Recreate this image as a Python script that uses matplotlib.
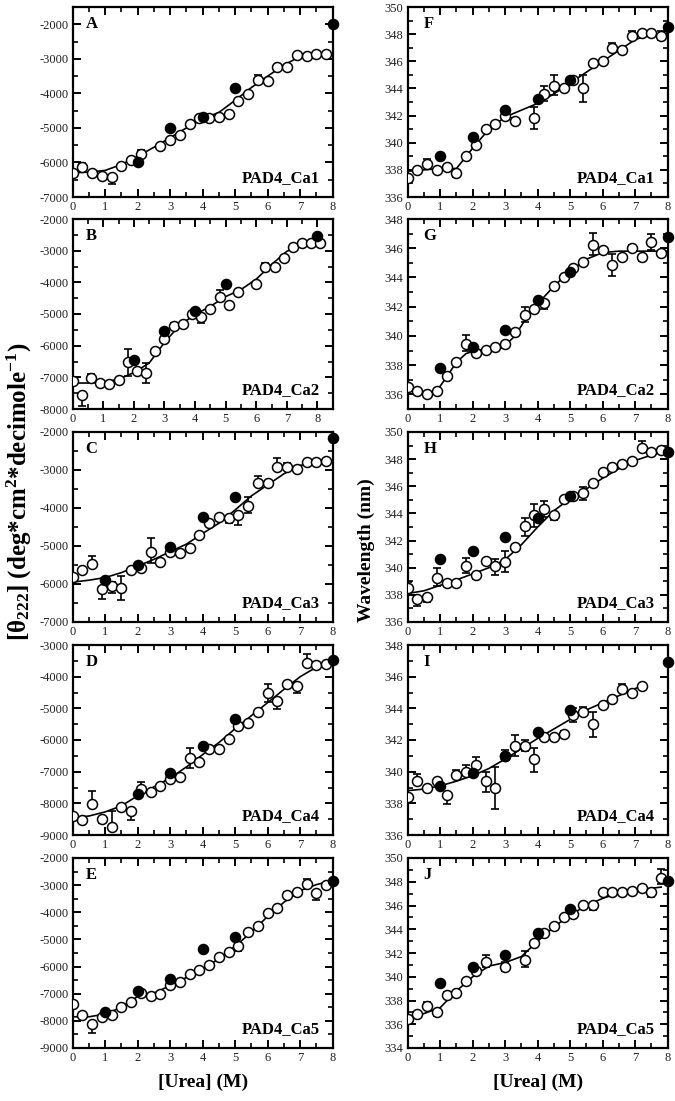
import numpy as np
import matplotlib
matplotlib.use("Agg")
import matplotlib.pyplot as plt
from matplotlib.ticker import MultipleLocator

plt.rcParams['font.family'] = ['Liberation Serif', 'DejaVu Serif']
plt.rcParams['axes.unicode_minus'] = False
plt.rcParams['mathtext.fontset'] = 'custom'
plt.rcParams['mathtext.rm'] = 'Liberation Serif'
plt.rcParams['mathtext.it'] = 'Liberation Serif:italic'
plt.rcParams['mathtext.bf'] = 'Liberation Serif:bold'

# ---- CD panels (left column) ----
# A : PAD4_Ca1
a_x = [0, 0.3, 0.6, 0.9, 1.2, 1.5, 1.8, 2.1, 2.7, 3.0, 3.3, 3.6, 3.9, 4.2, 4.5, 4.8, 5.1, 5.4, 5.7, 6.0, 6.3, 6.6, 6.9, 7.2, 7.5, 7.8]
a_y = [-6310, -6140, -6300, -6390, -6420, -6110, -5940, -5750, -5530, -5360, -5200, -4890, -4710, -4710, -4690, -4600, -4230, -4030, -3600, -3630, -3250, -3230, -2880, -2930, -2870, -2870]
a_ex = [0.3, 1.2, 2.1, 5.7]
a_elo = [0, 210, 0, 0]
a_ehi = [130, 0, 100, 140]
a_fx = [2, 3, 4, 5, 8]
a_fy = [-6000, -5000, -4670, -3850, -2000]
a_lx = [0, 0.5, 1, 1.5, 2, 2.5, 3, 3.5, 4, 4.5, 5, 5.5, 6, 6.5, 7, 7.5, 7.8]
a_ly = [-6300, -6280, -6230, -6060, -5820, -5560, -5280, -5000, -4740, -4550, -4200, -3830, -3500, -3180, -2930, -2860, -2860]

# B : PAD4_Ca2
b_x = [0, 0.3, 0.6, 0.9, 1.2, 1.5, 1.8, 2.1, 2.4, 2.7, 3.0, 3.3, 3.6, 3.9, 4.2, 4.5, 4.8, 5.1, 5.4, 6.0, 6.3, 6.6, 6.9, 7.2, 7.5, 7.8, 8.1]
b_y = [-7100, -7550, -7020, -7180, -7200, -7080, -6510, -6810, -6860, -6180, -5790, -5390, -5300, -5000, -5100, -4830, -4460, -4700, -4300, -4050, -3500, -3510, -3220, -2880, -2760, -2760, -2760]
b_ex = [0.3, 0.6, 1.8, 2.4, 3.3, 4.2, 4.8, 6.3]
b_elo = [350, 0, 450, 320, 0, 180, 0, 0]
b_ehi = [0, 130, 420, 320, 100, 0, 220, 120]
b_fx = [2, 3, 4, 5, 8]
b_fy = [-6440, -5530, -4900, -4040, -2550]
b_lx = [0, 0.5, 1, 1.5, 2, 2.5, 3, 3.5, 4, 4.5, 5, 5.5, 6, 6.5, 7, 7.5, 8.1]
b_ly = [-7180, -7180, -7160, -7060, -6850, -6550, -5900, -5350, -5020, -4760, -4450, -4230, -3900, -3440, -3020, -2830, -2790]

# C : PAD4_Ca3
c_x = [0, 0.3, 0.6, 0.9, 1.2, 1.5, 1.8, 2.1, 2.4, 2.7, 3.0, 3.3, 3.6, 3.9, 4.2, 4.5, 4.8, 5.1, 5.4, 5.7, 6.0, 6.3, 6.6, 6.9, 7.2, 7.5, 7.8]
c_y = [-5810, -5630, -5480, -6140, -6040, -6100, -5630, -5590, -5150, -5430, -5150, -5190, -5040, -4710, -4400, -4230, -4250, -4180, -3940, -3350, -3350, -2930, -2910, -2980, -2780, -2800, -2760]
c_ex = [0, 0.6, 0.9, 1.2, 1.5, 2.4, 3.6, 4.8, 5.1, 5.4, 5.7, 6.3, 6.6]
c_elo = [100, 0, 260, 200, 330, 300, 80, 150, 260, 200, 0, 0, 0]
c_ehi = [0, 220, 0, 100, 320, 370, 0, 0, 0, 240, 180, 250, 100]
c_fx = [1, 2, 3, 4, 5, 8]
c_fy = [-5900, -5500, -5020, -4230, -3720, -2170]
c_lx = [0, 0.5, 1, 1.5, 2, 2.5, 3, 3.5, 4, 4.5, 5, 5.5, 6, 6.5, 7, 7.5, 7.8]
c_ly = [-5950, -5900, -5830, -5700, -5530, -5350, -5150, -4950, -4670, -4400, -4050, -3680, -3390, -3100, -2880, -2790, -2770]

# D : PAD4_Ca4
d_x = [0, 0.3, 0.6, 0.9, 1.2, 1.5, 1.8, 2.1, 2.4, 2.7, 3.0, 3.3, 3.6, 3.9, 4.2, 4.5, 4.8, 5.1, 5.4, 5.7, 6.0, 6.3, 6.6, 6.9, 7.2, 7.5, 7.8]
d_y = [-8410, -8540, -8020, -8490, -8750, -8130, -8250, -7560, -7640, -7460, -7240, -7160, -6560, -6690, -6270, -6270, -5970, -5550, -5470, -5120, -4520, -4780, -4220, -4300, -3580, -3640, -3600]
d_ex = [0.6, 0.9, 1.2, 1.8, 2.1, 3.6, 5.4, 6.0, 6.3, 6.9, 7.2]
d_elo = [0, 120, 0, 270, 0, 320, 100, 290, 230, 210, 0]
d_ehi = [400, 0, 500, 0, 230, 320, 0, 300, 0, 0, 290]
d_fx = [2, 3, 4, 5, 8]
d_fy = [-7690, -7050, -6180, -5350, -3480]
d_lx = [0, 0.5, 1, 1.5, 2, 2.5, 3, 3.5, 4, 4.5, 5, 5.5, 6, 6.5, 7, 7.5, 8]
d_ly = [-8460, -8400, -8270, -8080, -7760, -7480, -7200, -6850, -6460, -6080, -5640, -5230, -4820, -4400, -4000, -3700, -3450]

# E : PAD4_Ca5
e_x = [0, 0.3, 0.6, 0.9, 1.2, 1.5, 1.8, 2.1, 2.4, 2.7, 3.0, 3.3, 3.6, 3.9, 4.2, 4.5, 4.8, 5.1, 5.4, 5.7, 6.0, 6.3, 6.6, 6.9, 7.2, 7.5, 7.8]
e_y = [-7370, -7800, -8110, -7840, -7770, -7490, -7300, -6980, -7070, -7000, -6690, -6550, -6280, -6120, -5960, -5660, -5480, -5260, -4720, -4520, -4040, -3860, -3360, -3240, -2950, -3290, -2980]
e_ex = [0.6, 5.1, 6.6, 7.2, 7.5]
e_elo = [320, 180, 100, 0, 270]
e_ehi = [0, 0, 100, 170, 0]
e_fx = [1, 2, 3, 4, 5, 8]
e_fy = [-7680, -6910, -6450, -5350, -4910, -2860]
e_lx = [0, 0.5, 1, 1.5, 2, 2.5, 3, 3.5, 4, 4.5, 5, 5.5, 6, 6.5, 7, 7.5, 8]
e_ly = [-7850, -7850, -7750, -7500, -7100, -6980, -6700, -6400, -6080, -5720, -5250, -4730, -4150, -3630, -3200, -2980, -2830]

# ---- fluorescence panels (right column) ----
# F : PAD4_Ca1
f_x = [0, 0.3, 0.6, 0.9, 1.2, 1.5, 1.8, 2.1, 2.4, 2.7, 3.0, 3.3, 3.9, 4.2, 4.5, 4.8, 5.1, 5.4, 5.7, 6.0, 6.3, 6.6, 6.9, 7.2, 7.5, 7.8]
f_y = [337.4, 338.0, 338.4, 338.0, 338.2, 337.8, 339.0, 339.8, 341.0, 341.4, 342.0, 341.6, 341.8, 343.6, 344.2, 344.0, 344.6, 344.0, 345.9, 346.0, 347.0, 346.8, 347.9, 348.1, 348.1, 347.9]
f_ex = [0, 0.6, 1.5, 3.3, 3.9, 4.2, 4.5, 5.4, 6.3, 6.9, 7.8]
f_elo = [0.3, 0, 0.3, 0.2, 0.8, 0.5, 0.7, 1.0, 0, 0, 0.3]
f_ehi = [0, 0.4, 0, 0.2, 0.8, 0.6, 0.8, 1.0, 0.35, 0.3, 0.3]
f_fx = [1, 2, 3, 4, 5, 8]
f_fy = [339.0, 340.4, 342.4, 343.2, 344.6, 348.5]
f_lx = [0, 0.5, 1, 1.5, 2, 2.5, 3, 3.5, 4, 4.5, 5, 5.5, 6, 6.5, 7, 7.5, 7.8]
f_ly = [337.9, 338.0, 338.1, 338.1, 339.6, 341.0, 341.9, 342.4, 342.9, 343.6, 344.4, 345.2, 346.0, 346.8, 347.6, 348.0, 348.0]

# G : PAD4_Ca2
g_x = [0, 0.3, 0.6, 0.9, 1.2, 1.5, 1.8, 2.1, 2.4, 2.7, 3.0, 3.3, 3.6, 3.9, 4.2, 4.5, 4.8, 5.1, 5.4, 5.7, 6.0, 6.3, 6.6, 6.9, 7.2, 7.5, 7.8]
g_y = [336.5, 336.25, 336.05, 336.25, 337.25, 338.25, 339.45, 338.85, 339.05, 339.25, 339.45, 340.25, 341.45, 341.85, 342.25, 343.45, 344.05, 344.65, 345.05, 346.25, 345.85, 344.85, 345.4, 346.05, 345.4, 346.4, 345.65]
g_ex = [1.5, 1.8, 3.0, 3.6, 4.2, 5.7, 6.0, 6.3, 6.6, 6.9, 7.2, 7.5]
g_elo = [0.15, 0.5, 0.25, 0.5, 0.4, 0.7, 0, 0.75, 0.2, 0, 0.3, 0.5]
g_ehi = [0, 0.6, 0, 0.55, 0, 0.8, 0.2, 0.75, 0.15, 0.2, 0, 0.6]
g_fx = [1, 2, 3, 4, 5, 8]
g_fy = [337.8, 339.25, 340.4, 342.45, 344.4, 346.8]
g_lx = [0, 0.3, 0.6, 0.9, 1.2, 1.5, 1.8, 2.1, 2.5, 3, 3.3, 3.6, 4, 4.5, 5, 5.5, 6, 6.5, 7, 7.5, 8]
g_ly = [336.35, 336.2, 336.05, 336.25, 337.2, 338.2, 338.8, 339.0, 339.15, 339.35, 340.0, 341.05, 342.2, 343.4, 344.45, 345.25, 345.7, 345.8, 345.8, 345.8, 345.8]

# H : PAD4_Ca3
h_x = [0, 0.3, 0.6, 0.9, 1.2, 1.5, 1.8, 2.1, 2.4, 2.7, 3.0, 3.3, 3.6, 3.9, 4.2, 4.5, 4.8, 5.1, 5.4, 5.7, 6.0, 6.3, 6.6, 6.9, 7.2, 7.5, 7.8]
h_y = [338.5, 337.7, 337.85, 339.25, 338.9, 338.9, 340.1, 339.5, 340.5, 340.1, 340.45, 341.5, 343.05, 343.85, 344.3, 343.85, 345.05, 345.25, 345.5, 346.25, 347.05, 347.45, 347.65, 347.85, 348.85, 348.5, 348.65]
h_ex = [0, 0.3, 0.6, 0.9, 1.8, 2.1, 2.7, 3.0, 3.3, 3.6, 3.9, 4.2, 4.5, 5.4, 7.2]
h_elo = [0, 0.5, 0.4, 0.6, 0.5, 0.35, 0.65, 0.8, 0.2, 0.7, 0.85, 0.55, 0.3, 0.5, 0]
h_ehi = [0.45, 0, 0, 0.7, 0.6, 0, 0.55, 0.8, 0.2, 0.65, 0.85, 0.65, 0.2, 0.45, 0.5]
h_fx = [1, 2, 3, 4, 5, 8]
h_fy = [340.65, 341.25, 342.3, 343.65, 345.25, 348.5]
h_lx = [0, 0.5, 1, 1.5, 2, 2.5, 3, 3.5, 4, 4.5, 5, 5.5, 6, 6.5, 7, 7.5, 7.8]
h_ly = [338.1, 338.3, 338.7, 339.1, 339.55, 340.0, 340.6, 341.7, 343.0, 344.2, 345.1, 345.8, 346.6, 347.3, 347.9, 348.3, 348.5]

# I : PAD4_Ca4
i_x = [0, 0.3, 0.6, 0.9, 1.2, 1.5, 1.8, 2.1, 2.4, 2.7, 3.0, 3.3, 3.6, 3.9, 4.2, 4.5, 4.8, 5.1, 5.4, 5.7, 6.0, 6.3, 6.6, 6.9, 7.2]
i_y = [338.4, 339.4, 339.0, 339.4, 338.55, 339.8, 340.0, 340.4, 339.4, 339.0, 341.0, 341.6, 341.6, 340.8, 342.2, 342.2, 342.4, 343.6, 343.8, 343.0, 344.2, 344.6, 345.2, 345.0, 345.4]
i_ex = [0.3, 0.9, 1.2, 1.5, 1.8, 2.1, 2.4, 2.7, 3.0, 3.3, 3.6, 3.9, 4.2, 4.8, 5.1, 5.4, 5.7, 6.6]
i_elo = [0, 0, 0.6, 0, 0, 0, 0.7, 1.35, 0, 0.6, 0.3, 0.8, 0, 0.2, 0.45, 0, 0.8, 0]
i_ehi = [0.45, 0.15, 0, 0.3, 0.4, 0.55, 0.6, 1.3, 0.4, 0.7, 0.4, 0.7, 0.2, 0.2, 0.4, 0.3, 0.8, 0.35]
i_fx = [1, 2, 3, 4, 5, 8]
i_fy = [339.1, 339.9, 341.0, 342.5, 343.9, 346.95]
i_lx = [0, 0.5, 1, 1.5, 2, 2.5, 3, 3.5, 4, 4.5, 5, 5.5, 6, 6.5, 7, 7.2]
i_ly = [338.8, 338.9, 339.1, 339.4, 339.75, 340.2, 340.8, 341.45, 342.1, 342.7, 343.3, 343.9, 344.35, 344.8, 345.25, 345.4]

# J : PAD4_Ca5
j_x = [0, 0.3, 0.6, 0.9, 1.2, 1.5, 1.8, 2.1, 2.4, 3.0, 3.6, 3.9, 4.2, 4.5, 4.8, 5.1, 5.4, 5.7, 6.0, 6.3, 6.6, 6.9, 7.2, 7.5, 7.8]
j_y = [336.45, 336.85, 337.5, 337.0, 338.5, 338.6, 339.65, 340.45, 341.25, 340.85, 341.45, 342.85, 343.7, 344.25, 345.05, 345.3, 346.05, 346.05, 347.1, 347.1, 347.1, 347.25, 347.45, 347.1, 348.3]
j_ex = [0.6, 0.9, 1.2, 1.5, 2.4, 3.0, 3.6, 5.7, 7.5, 7.8]
j_elo = [0, 0.3, 0, 0, 0.45, 0.4, 0.65, 0.4, 0.4, 0.45]
j_ehi = [0.4, 0, 0.2, 0.2, 0.6, 0.4, 0.7, 0, 0, 0.75]
j_fx = [1, 2, 3, 4, 5, 8]
j_fy = [339.45, 340.85, 341.85, 343.7, 345.7, 348.1]
j_lx = [0, 0.5, 1, 1.5, 2, 2.5, 3, 3.5, 4, 4.5, 5, 5.5, 6, 6.5, 7, 7.5, 7.8]
j_ly = [336.4, 336.9, 337.4, 338.8, 340.0, 340.9, 341.2, 341.7, 343.0, 344.2, 345.2, 346.0, 346.6, 347.05, 347.3, 347.45, 347.55]

panel_letters = ["A", "B", "C", "D", "E", "F", "G", "H", "I", "J"]
sample_names = ["PAD4_Ca1", "PAD4_Ca2", "PAD4_Ca3", "PAD4_Ca4", "PAD4_Ca5"]

panels = [
    (a_x, a_y, a_ex, a_elo, a_ehi, a_fx, a_fy, a_lx, a_ly),
    (b_x, b_y, b_ex, b_elo, b_ehi, b_fx, b_fy, b_lx, b_ly),
    (c_x, c_y, c_ex, c_elo, c_ehi, c_fx, c_fy, c_lx, c_ly),
    (d_x, d_y, d_ex, d_elo, d_ehi, d_fx, d_fy, d_lx, d_ly),
    (e_x, e_y, e_ex, e_elo, e_ehi, e_fx, e_fy, e_lx, e_ly),
    (f_x, f_y, f_ex, f_elo, f_ehi, f_fx, f_fy, f_lx, f_ly),
    (g_x, g_y, g_ex, g_elo, g_ehi, g_fx, g_fy, g_lx, g_ly),
    (h_x, h_y, h_ex, h_elo, h_ehi, h_fx, h_fy, h_lx, h_ly),
    (i_x, i_y, i_ex, i_elo, i_ehi, i_fx, i_fy, i_lx, i_ly),
    (j_x, j_y, j_ex, j_elo, j_ehi, j_fx, j_fy, j_lx, j_ly),
]

# axis limits per panel
ylims = [(-7000, -1500), (-8000, -2000), (-7000, -2000), (-9000, -3000), (-9000, -2000),
         (336, 350), (335, 348), (336, 350), (336, 348), (334, 350)]
xlims = [(0, 8), (0, 8.5), (0, 8), (0, 8), (0, 8), (0, 8), (0, 8), (0, 8), (0, 8), (0, 8)]

W, H = 675, 1101
fig = plt.figure(figsize=(W / 100, H / 100), dpi=100)

col_left = [72.7, 407.7]
col_w = 260
row_top = [7, 219, 432, 645, 858]
row_h = 190

for k, (ox, oy, ex, elo, ehi, fx, fy, lx, ly) in enumerate(panels):
    col = k // 5
    row = k % 5
    ax = fig.add_axes([col_left[col] / W, 1 - (row_top[row] + row_h) / H, col_w / W, row_h / H])

    ax.plot(lx, ly, color='black', lw=1.2, zorder=2)

    ey = [oy[ox.index(x)] for x in ex]
    ax.errorbar(ex, ey, yerr=[elo, ehi], fmt='none', ecolor='black',
                elinewidth=1.2, capsize=2.6, capthick=1.2, zorder=3)
    ax.plot(ox, oy, 'o', ms=7.2, mfc='white', mec='black', mew=1.1, zorder=4)
    ax.plot(fx, fy, 'o', ms=7.2, mfc='black', mec='black', mew=1.1, zorder=5, clip_on=False)

    ax.set_xlim(*xlims[k])
    ax.set_ylim(*ylims[k])
    ax.xaxis.set_major_locator(MultipleLocator(1))
    ax.xaxis.set_minor_locator(MultipleLocator(0.5))
    if col == 0:
        ax.yaxis.set_major_locator(MultipleLocator(1000))
        ax.yaxis.set_minor_locator(MultipleLocator(500))
    else:
        ax.yaxis.set_major_locator(MultipleLocator(2))
        ax.yaxis.set_minor_locator(MultipleLocator(1))

    ax.tick_params(which='both', direction='in', top=True, right=True, colors='black',
                   labelsize=9, labelcolor='#222222')
    ax.tick_params(which='major', length=6, width=1.4, pad=3)
    ax.tick_params(which='minor', length=3.5, width=1.2)
    for s in ax.spines.values():
        s.set_linewidth(1.6)

    ax.text(0.05 if col == 0 else 0.06, 0.91, panel_letters[k], transform=ax.transAxes,
            fontsize=12, fontweight='bold', ha='left', va='center')
    ax.text(0.95, 0.10, sample_names[row], transform=ax.transAxes,
            fontsize=12, fontweight='bold', ha='right', va='center')

fig.text(19 / W, 1 - 492 / H,
         r'$\mathbf{[\theta_{222}]\ (deg{*}cm^{2}{*}decimole^{-1})}$',
         rotation=90, ha='center', va='center', fontsize=18)
fig.text(366 / W, 1 - 550 / H, 'Wavelength (nm)', rotation=90, ha='center', va='center',
         fontsize=14, fontweight='bold')
fig.text(203 / W, 1 - 1082 / H, '[Urea] (M)', ha='center', va='center', fontsize=14, fontweight='bold')
fig.text(538 / W, 1 - 1082 / H, '[Urea] (M)', ha='center', va='center', fontsize=14, fontweight='bold')

fig.savefig('out.png', dpi=100)
